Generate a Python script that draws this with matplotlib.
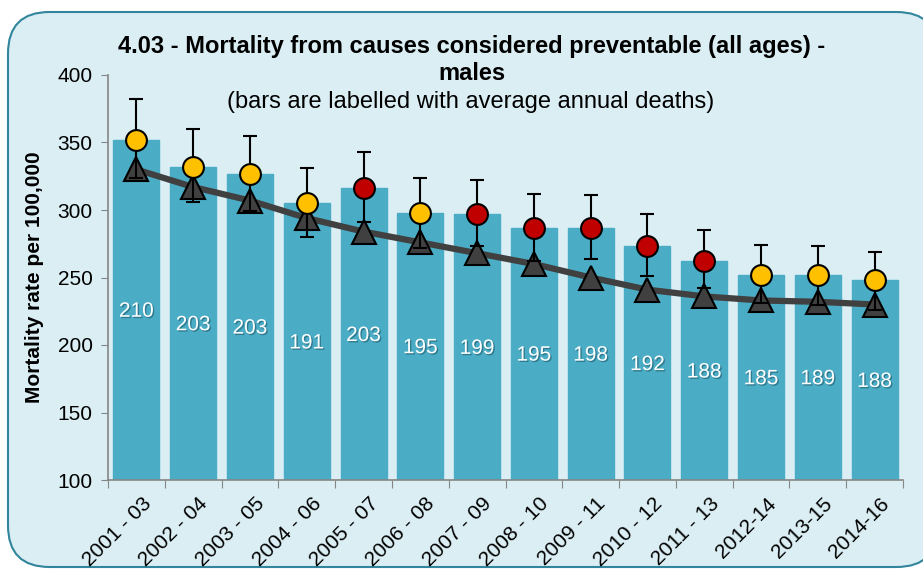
import matplotlib.pyplot as plt
import matplotlib.patheffects as pe
import matplotlib.transforms as mtransforms
from matplotlib.patches import FancyBboxPatch

# periods shown on the x axis
periods = ['2001 - 03', '2002 - 04', '2003 - 05', '2004 - 06', '2005 - 07',
           '2006 - 08', '2007 - 09', '2008 - 10', '2009 - 11', '2010 - 12',
           '2011 - 13', '2012-14', '2013-15', '2014-16']

# local mortality rate (bars + circles)
rate = [352, 332, 327, 305, 316, 298, 297, 287, 287, 273, 262, 252, 252, 248]
ci_upper = [382, 360, 355, 331, 343, 324, 322, 312, 311, 297, 285, 274, 273, 269]
ci_lower = [324, 306, 299, 280, 291, 272, 273, 262, 264, 251, 242, 231, 230, 226]

# significance vs England: 'similar' or 'worse'
signif = ['similar', 'similar', 'similar', 'similar', 'worse', 'similar', 'worse',
          'worse', 'worse', 'worse', 'worse', 'similar', 'similar', 'similar']

# England comparator (line with triangles)
england = [330, 317, 307, 294, 284, 276, 268, 260, 250, 241, 236, 233, 232, 230]

# average annual deaths labels
deaths = [210, 203, 203, 191, 203, 195, 199, 195, 198, 192, 188, 185, 189, 188]

plt.rcParams['font.family'] = ['Liberation Sans', 'DejaVu Sans']

fig = plt.figure(figsize=(9.23, 5.71), dpi=100)
fig.patch.set_facecolor('white')

# rounded chart-area frame
frame = FancyBboxPatch((8 / 923, 4 / 571), 930 / 923, 555 / 571,
                       boxstyle='round,pad=0,rounding_size=0.045',
                       transform=fig.transFigure, facecolor='#DAEEF3',
                       edgecolor='#31859C', linewidth=1.5, zorder=-5,
                       mutation_aspect=923 / 571)
fig.patches.append(frame)

ax = fig.add_axes([108 / 923, 91 / 571, 795 / 923, 405 / 571])
ax.set_facecolor('none')

x = list(range(len(periods)))
ax.bar(x, [r - 100 for r in rate], bottom=100, width=0.81,
       color='#4BACC6', edgecolor='#4BACC6', zorder=2)

# labels centred in bars
for xi, r, d in zip(x, rate, deaths):
    ax.text(xi, (100 + r) / 2 - 1, str(d), ha='center', va='center', color='white',
            fontsize=15, zorder=3,
            path_effects=[pe.withSimplePatchShadow(offset=(1, -1), shadow_rgbFace='#1F5A6A', alpha=0.6)])

# England line
ax.plot(x, england, color='#404040', linewidth=4.5, zorder=4, solid_capstyle='round')
ax.plot(x, england, linestyle='none', marker='^', markersize=17,
        markerfacecolor='#404040', markeredgecolor='black', markeredgewidth=1.5, zorder=5)

# confidence intervals
err_lo = [r - lo for r, lo in zip(rate, ci_lower)]
err_hi = [hi - r for r, hi in zip(rate, ci_upper)]
ax.errorbar(x, rate, yerr=[err_lo, err_hi], fmt='none', ecolor='black',
            elinewidth=1.5, capsize=5, capthick=1.5, zorder=6)

colours = {'similar': '#FFC000', 'worse': '#C00000'}
for xi, r, s in zip(x, rate, signif):
    ax.plot(xi, r, marker='o', markersize=15, markerfacecolor=colours[s],
            markeredgecolor='black', markeredgewidth=1.5, zorder=7)

ax.set_xlim(-0.5, len(periods) - 0.5)
ax.set_ylim(100, 400)
ax.set_yticks([100, 150, 200, 250, 300, 350, 400])
ax.tick_params(axis='y', labelsize=15, length=5, color='#868686', pad=6)
ax.set_xticks([i - 0.5 for i in range(len(periods) + 1)], minor=False)
ax.set_xticklabels([])
ax.set_xticks(x, minor=True)
labels = ax.set_xticklabels(periods, minor=True, rotation=45, ha='right', va='top',
                            rotation_mode='anchor', fontsize=15)
ax.tick_params(axis='x', which='major', length=6, color='#868686')
ax.tick_params(axis='x', which='minor', length=0, pad=10)
# nudge labels slightly right of the category centre
for lab in labels:
    lab.set_transform(lab.get_transform() +
                      mtransforms.ScaledTranslation(5 / 100, 0, fig.dpi_scale_trans))

for side in ['top', 'right']:
    ax.spines[side].set_visible(False)
for side in ['left', 'bottom']:
    ax.spines[side].set_color('#868686')
    ax.spines[side].set_linewidth(1.2)

ax.set_ylabel('Mortality rate per 100,000', fontsize=15, fontweight='bold', labelpad=10)

fig.text(472 / 923, 1 - 47 / 571, '4.03 - Mortality from causes considered preventable (all ages) -',
         ha='center', va='center', fontsize=17, fontweight='bold')
fig.text(472 / 923, 1 - 73 / 571, 'males', ha='center', va='center', fontsize=17, fontweight='bold')
fig.text(471 / 923, 1 - 102 / 571, '(bars are labelled with average annual deaths)',
         ha='center', va='center', fontsize=17)

fig.savefig('out.png', dpi=100, facecolor='white')
